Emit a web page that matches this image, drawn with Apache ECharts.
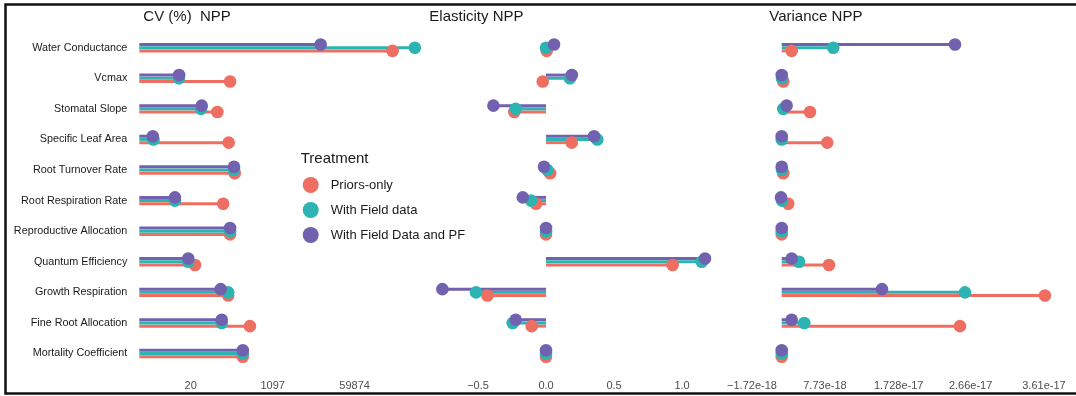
<!DOCTYPE html>
<html><head><meta charset="utf-8">
<script src="https://cdn.jsdelivr.net/npm/echarts@6/dist/echarts.min.js"></script>
<style>html,body{margin:0;padding:0;background:#fff}#c{width:1076px;height:396px}</style>
</head><body><div id="c"></div>
<script>
const categories = ['Water Conductance','Vcmax','Stomatal Slope','Specific Leaf Area','Root Turnover Rate','Root Respiration Rate','Reproductive Allocation','Quantum Efficiency','Growth Respiration','Fine Root Allocation','Mortality Coefficient'];
const treatments = ['Priors-only','With Field data','With Field Data and PF'];

// CV (%) NPP (log scale)
const cvPriors  = [381000, 137, 73.6, 128, 172, 98, 137, 24.8, 125, 361, 255];
const cvField   = [1130000, 11.3, 33.2, 3.26, 166, 9.3, 137, 17.8, 125, 91, 255];
const cvFieldPF = [11400, 11.4, 34.4, 3.15, 166, 9.3, 137, 17.8, 86.5, 91, 255];

// Elasticity NPP
const elPriors  = [0.005, -0.024, -0.233, 0.189, 0.03, -0.074, 0, 0.931, -0.431, -0.105, 0];
const elField   = [0.0, 0.176, -0.223, 0.377, 0.01, -0.11, 0, 1.145, -0.515, -0.245, 0];
const elFieldPF = [0.059, 0.19, -0.387, 0.353, -0.015, -0.171, 0, 1.169, -0.762, -0.223, 0];

// Variance NPP
const varPriors  = [3.42e-18, 2.33e-18, 5.79e-18, 8.03e-18, 2.33e-18, 2.98e-18, 2.13e-18, 8.25e-18, 36.23e-18, 25.22e-18, 2.13e-18];
const varField   = [8.81e-18, 2.17e-18, 2.33e-18, 2.13e-18, 2.17e-18, 2.17e-18, 2.13e-18, 4.37e-18, 25.87e-18, 5.05e-18, 2.13e-18];
const varFieldPF = [24.58e-18, 2.13e-18, 2.77e-18, 2.13e-18, 2.13e-18, 2.04e-18, 2.13e-18, 3.42e-18, 15.12e-18, 3.42e-18, 2.13e-18];

// tick labels
const cvTicks = [20, 1097, 59874];
const elTicks = [-0.5, 0, 0.5, 1.0];
const varTicks = [-1.72e-18, 7.73e-18, 1.728e-17, 2.66e-17, 3.61e-17];
const varTickLabels = ['\u22121.72e-18', '7.73e-18', '1.728e-17', '2.66e-17', '3.61e-17'];

const colors = ['#EF6E62', '#2BB4B2', '#7161AF'];
const offsets = [3.2, 0, -3.2];
const FONT = 'Liberation Sans, Arial, Helvetica, sans-serif';

const CV_MIN = 0.49, CV_MAX = 14.58;
const EL_MIN = -0.859, EL_MAX = 1.266;
const VAR_MIN = -3.274e-18, VAR_MAX = 38.18e-18, VAR_BASE = 2.13e-18;

const panels = [
  {vals: [cvPriors, cvField, cvFieldPF], tf: v => Math.log(v), base: CV_MIN},
  {vals: [elPriors, elField, elFieldPF], tf: v => v, base: 0},
  {vals: [varPriors, varField, varFieldPF], tf: v => v, base: VAR_BASE}
];

const series = [];
panels.forEach((p, pi) => {
  [0,1,2].forEach(t => {
    series.push({
      type: 'custom', name: treatments[t], xAxisIndex: pi, yAxisIndex: pi, z: 2,
      itemStyle: {color: colors[t]},
      encode: {x: 0, y: 1},
      data: p.vals[t].map((v, i) => [p.tf(v), i]),
      renderItem: (params, api) => {
        const c = api.value(1);
        const p1 = api.coord([api.value(0), c]);
        const p0 = api.coord([p.base, c]);
        const dy = offsets[t];
        return {type: 'line', shape: {x1: p0[0], y1: p0[1] + dy, x2: p1[0], y2: p1[1] + dy},
                style: {stroke: colors[t], lineWidth: 3}};
      }
    });
  });
  [0,1,2].forEach(t => {
    series.push({
      type: 'custom', name: treatments[t], xAxisIndex: pi, yAxisIndex: pi, z: 3,
      itemStyle: {color: colors[t]},
      encode: {x: 0, y: 1},
      data: p.vals[t].map((v, i) => [p.tf(v), i]),
      renderItem: (params, api) => {
        const c = api.value(1);
        const p1 = api.coord([api.value(0), c]);
        return {type: 'circle', shape: {cx: p1[0], cy: p1[1] + offsets[t], r: 6.3},
                style: {fill: colors[t]}};
      }
    });
  });
});

const gridTop = 32.4, gridH = 336.4;
const tickLabel = {fontSize: 11, color: '#4d4d4d', fontFamily: FONT, margin: 12};
const titleStyle = {fontSize: 15, fontWeight: 'normal', color: '#1a1a1a', fontFamily: FONT};

const option = {
  animation: false,
  backgroundColor: '#fff',
  title: [
    {text: 'CV (%)  NPP', left: 143.3, top: 9.5, padding: 0, textStyle: titleStyle},
    {text: 'Elasticity NPP', left: 429.3, top: 9.5, padding: 0, textStyle: titleStyle},
    {text: 'Variance NPP', left: 769.3, top: 9.5, padding: 0, textStyle: titleStyle},
    {text: 'Treatment', left: 300.7, top: 151, padding: 0, textStyle: titleStyle}
  ],
  legend: {
    data: treatments, orient: 'vertical', left: 302.7, top: 177, padding: 0,
    icon: 'circle', itemWidth: 16, itemHeight: 16, itemGap: 9,
    selectedMode: false,
    textStyle: {fontSize: 13, color: '#1a1a1a', fontFamily: FONT, padding: [0, 0, 0, 7]}
  },
  grid: [
    {left: 139.3, width: 288.7, top: gridTop, height: gridH},
    {left: 429.2, width: 289, top: gridTop, height: gridH},
    {left: 740, width: 320, top: gridTop, height: gridH}
  ],
  xAxis: [
    {type: 'value', gridIndex: 0, min: CV_MIN, max: CV_MAX,
     axisLine: {show: false}, axisTick: {show: false}, splitLine: {show: false},
     axisLabel: Object.assign({}, tickLabel, {customValues: cvTicks.map(Math.log),
       formatter: v => String(Math.round(Math.exp(v)))})},
    {type: 'value', gridIndex: 1, min: EL_MIN, max: EL_MAX,
     axisLine: {show: false}, axisTick: {show: false}, splitLine: {show: false},
     axisLabel: Object.assign({}, tickLabel, {customValues: elTicks,
       formatter: v => v.toFixed(1).replace('-', '\u2212')})},
    {type: 'value', gridIndex: 2, min: VAR_MIN, max: VAR_MAX,
     axisLine: {show: false}, axisTick: {show: false}, splitLine: {show: false},
     axisLabel: Object.assign({}, tickLabel, {customValues: varTicks,
       formatter: v => {
         let best = 0;
         varTicks.forEach((t, i) => { if (Math.abs(t - v) < Math.abs(varTicks[best] - v)) best = i; });
         return varTickLabels[best];
       }})}
  ],
  yAxis: [0,1,2].map(i => ({
    type: 'category', gridIndex: i, data: categories, inverse: true,
    axisLine: {show: false}, axisTick: {show: false}, splitLine: {show: false},
    axisLabel: {show: i === 0, fontSize: 10.8, color: '#1a1a1a', fontFamily: FONT, margin: 12}
  })),
  graphic: [{
    type: 'rect', silent: true, z: 100,
    shape: {x: 5.5, y: 4.5, width: 1090, height: 389},
    style: {fill: 'none', stroke: '#111', lineWidth: 2.5}
  }],
  series: series
};

const chart = echarts.init(document.getElementById('c'), null, {renderer: 'canvas'});
chart.setOption(option);
</script>
</body></html>
